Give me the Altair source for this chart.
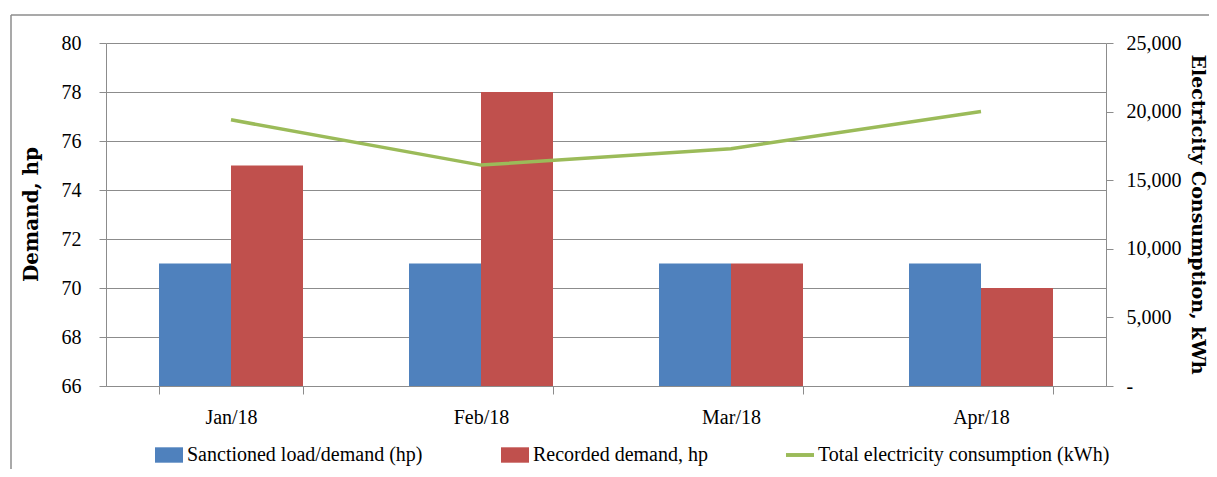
import altair as alt
import pandas as pd

months = ["Jan/18", "Feb/18", "Mar/18", "Apr/18"]
sanctioned = [71, 71, 71, 71]
recorded = [75, 78, 71, 70]
consumption = [19400, 16100, 17300, 20000]
series = ["Sanctioned load/demand (hp)", "Recorded demand, hp",
          "Total electricity consumption (kWh)"]
colors = ["#4F81BD", "#C0504D", "#9BBB59"]
left_ticks = [66, 68, 70, 72, 74, 76, 78, 80]
right_ticks = [0, 5000, 10000, 15000, 20000, 25000]

bars_df = pd.DataFrame({
    "month": months * 2,
    "series": [series[0]] * 4 + [series[1]] * 4,
    "value": sanctioned + recorded,
})
line_df = pd.DataFrame({"month": months, "kwh": consumption})

FONT = "Liberation Serif"
TFONT = "DejaVu Serif"
GRAY = "#8c8c8c"

x_enc = alt.X("month:N", sort=months,
              scale=alt.Scale(paddingInner=0.424, paddingOuter=0.212),
              axis=alt.Axis(title=None, tickBand="extent", labelAngle=0,
                            tickSize=8, labelPadding=13, domainColor=GRAY,
                            tickColor=GRAY, grid=False, labelFont=FONT,
                            labelFontSize=20, labelColor="black"))

color_scale = alt.Scale(domain=series, range=colors)
rect = "M-1,-0.55H1V0.55H-1Z"
linepath = "M-1,-0.14H1V0.14H-1Z"
shape_scale = alt.Scale(domain=series, range=[rect, rect, linepath])

legend = alt.Legend(title=None, orient="none", legendX=49, legendY=398,
                    direction="horizontal", symbolSize=784,
                    symbolStrokeWidth=0, labelFont=FONT, labelFontSize=20,
                    labelColor="black", labelOffset=4, columnPadding=78,
                    labelLimit=0)

y_left = alt.Y("value:Q",
               scale=alt.Scale(domain=[66, 80], zero=False, nice=False),
               axis=alt.Axis(values=left_ticks, title="Demand, hp",
                             titleX=-69, titleY=171, titleBaseline="alphabetic",
                             titleFont=TFONT, titleFontSize=20,
                             titleFontWeight="bold", titleColor="black",
                             labelFont=FONT, labelFontSize=20, labelColor="black",
                             tickSize=7, labelPadding=18, domainColor=GRAY,
                             tickColor=GRAY, gridColor=GRAY, grid=True))

bars = alt.Chart(bars_df).mark_bar().encode(
    x=x_enc,
    xOffset=alt.XOffset("series:N", sort=series[:2]),
    y=y_left,
    y2=alt.datum(66),
    color=alt.Color("series:N", scale=color_scale, legend=legend),
)

points = alt.Chart(bars_df).transform_filter("false").mark_point(
    filled=True, opacity=1, size=784).encode(
    x=alt.X("month:N", sort=months),
    y=alt.Y("value:Q"),
    color=alt.Color("series:N", scale=color_scale, legend=legend),
    shape=alt.Shape("series:N", scale=shape_scale, legend=legend),
)

left_layer = alt.layer(bars, points)

line = alt.Chart(line_df).mark_line(color=colors[2], strokeWidth=3.5).encode(
    x=alt.X("month:N", sort=months),
    y=alt.Y("kwh:Q", scale=alt.Scale(domain=[0, 25000], nice=False),
            axis=alt.Axis(orient="right", values=right_ticks,
                          labelExpr="datum.value == 0 ? '-' : format(datum.value, ',')",
                          title="Electricity Consumption, kWh",
                          titleX=85, titleY=171, titleAngle=90,
                          titleBaseline="alphabetic",
                          titleFont=TFONT, titleFontSize=19,
                          titleFontWeight="bold", titleColor="black",
                          labelFont=FONT, labelFontSize=20, labelColor="black",
                          tickSize=7, labelPadding=13, domainColor=GRAY,
                          tickColor=GRAY, grid=False)),
)

frame_df = pd.DataFrame({"k": [0]})
frame_top = alt.Chart(frame_df).mark_rule(color=GRAY, strokeWidth=1.5).encode(
    x=alt.value(-95), x2=alt.value(1111), y=alt.value(-28))
frame_left = alt.Chart(frame_df).mark_rule(color=GRAY, strokeWidth=1.5).encode(
    x=alt.value(-95), y=alt.value(-28), y2=alt.value(434))

chart = alt.layer(left_layer, line, frame_top, frame_left).resolve_scale(
    y="independent"
).properties(
    width=1000, height=343,
    padding={"left": 98, "top": 35, "right": 103, "bottom": 83},
    autosize=alt.AutoSizeParams(type="none"),
).configure_view(stroke=None).configure_axis(
    labelFont=FONT, labelFontSize=20, labelColor="black",
    titleFont=TFONT, titleFontSize=20, titleFontWeight="bold",
    titleColor="black",
)

chart.save("out.html", embed_options={"renderer": "svg", "actions": False})
